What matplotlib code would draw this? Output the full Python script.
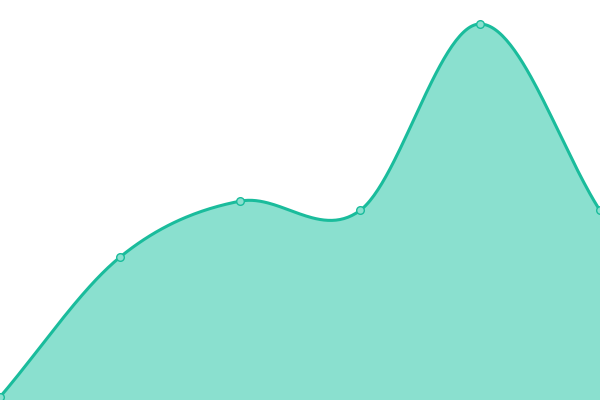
import matplotlib
matplotlib.use('Agg')
import matplotlib.pyplot as plt
import numpy as np

# Data
x_pos = [0, 1, 2, 3, 4, 5]
values = [0, 15, 21, 20, 40, 20]

line_color = '#1abc9c'
fill_color = '#8ae0cf'


def catmull_rom(xs, ys, steps=60):
    # smooth curve through every point, one-sided tangents at the ends
    xs = np.asarray(xs, float)
    ys = np.asarray(ys, float)
    n = len(ys)
    m = np.zeros(n)
    for i in range(n):
        if i == 0:
            m[i] = ys[1] - ys[0]
        elif i == n - 1:
            m[i] = ys[-1] - ys[-2]
        else:
            m[i] = (ys[i + 1] - ys[i - 1]) / 2
    out_x, out_y = [], []
    for i in range(n - 1):
        t = np.linspace(0, 1, steps, endpoint=(i == n - 2))
        h00 = 2 * t**3 - 3 * t**2 + 1
        h10 = t**3 - 2 * t**2 + t
        h01 = -2 * t**3 + 3 * t**2
        h11 = t**3 - t**2
        out_x.append(xs[i] + t * (xs[i + 1] - xs[i]))
        out_y.append(h00 * ys[i] + h10 * m[i] + h01 * ys[i + 1] + h11 * m[i + 1])
    return np.concatenate(out_x), np.concatenate(out_y)


sx, sy = catmull_rom(x_pos, values)

fig = plt.figure(figsize=(6, 4), dpi=100)
ax = fig.add_axes([0, 0, 1, 1])

y_bottom = -0.322
y_top = 42.574
ax.fill_between(sx, sy, y_bottom, color=fill_color, lw=0)
ax.plot(sx, sy, color=line_color, lw=2.2, solid_capstyle='round')
ax.plot(x_pos, values, 'o', ms=5.5, mfc=fill_color, mec=line_color, mew=1.0)

ax.set_xlim(0, 5)
ax.set_ylim(y_bottom, y_top)
ax.axis('off')

fig.savefig('out.png', dpi=100)
